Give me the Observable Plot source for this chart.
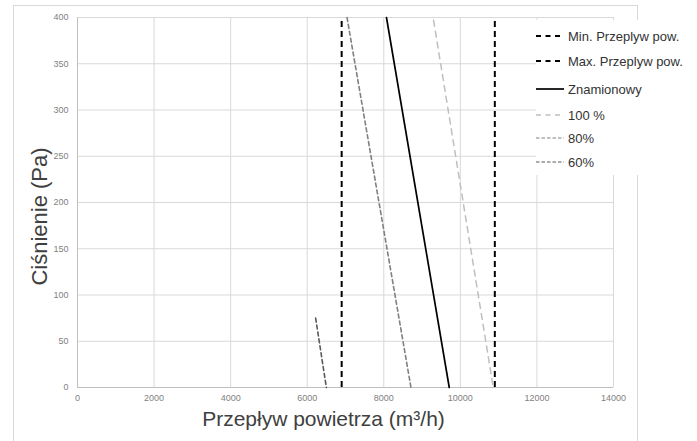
<!DOCTYPE html>
<html>
<head>
<meta charset="utf-8">
<script src="https://cdn.jsdelivr.net/npm/d3@7"></script>
<script src="https://cdn.jsdelivr.net/npm/@observablehq/plot@0.6"></script>
<style>
  html, body { margin: 0; padding: 0; background: #fff; }
  #wrap { position: relative; width: 697px; height: 441px; overflow: hidden; font-family: "Liberation Sans", Arial, sans-serif; }
  #frame { position: absolute; left: 13px; top: 5px; width: 625px; height: 450px; border: 1px solid #d9d9d9; box-sizing: border-box; }
  #chart { position: absolute; left: 0; top: 0; }
  #legend { position: absolute; left: 536px; top: 20px; width: 161px; height: 155px; background: #fff; }
  .row { position: absolute; left: 0; height: 16px; display: flex; align-items: center; }
  .row svg { display: block; }
  .row span { font-size: 13px; color: #333; margin-left: 4px; white-space: nowrap; }
</style>
</head>
<body>
<div id="wrap">
  <div id="frame"></div>
  <div id="chart"></div>
  <div id="legend"></div>
</div>
<script>
// Axis ticks
const flowTicks = [0, 2000, 4000, 6000, 8000, 10000, 12000, 14000];
const pressureTicks = [0, 50, 100, 150, 200, 250, 300, 350, 400];

// Flow limits (m3/h)
const minFlow = [6900];
const maxFlow = [10900];

// Curves: flow (m3/h) and pressure (Pa)
const nominalFlow = [8070, 9710];
const nominalPressure = [400, 0];
const p100Flow = [9300, 10860];
const p100Pressure = [397, 0];
const p80Flow = [7040, 8710];
const p80Pressure = [400, 0];
const p60Flow = [6220, 6500];
const p60Pressure = [75, 0];

// Legend labels
const legendLabels = ["Min. Przeplyw pow.", "Max. Przeplyw pow.", "Znamionowy", "100 %", "80%", "60%"];

const toPts = (xs, ys) => xs.map((x, i) => ({x, y: ys[i]}));

const styles = [
  {stroke: "#000", width: 2, dash: "6,4", legendDash: "5,4.5"},
  {stroke: "#000", width: 2, dash: "6,4", legendDash: "5,4.5"},
  {stroke: "#000", width: 1.7, dash: null, legendDash: null},
  {stroke: "#bfbfbf", width: 1.5, dash: "6,5", legendDash: "5,4.5"},
  {stroke: "#808080", width: 1.6, dash: "4,3", legendDash: "3.5,2"},
  {stroke: "#595959", width: 1.6, dash: "4,3", legendDash: "3.5,2"}
];

const chart = Plot.plot({
  width: 697,
  height: 441,
  marginLeft: 77,
  marginRight: 84,
  marginTop: 17,
  marginBottom: 54,
  style: {background: "transparent", fontFamily: "Liberation Sans, Arial, sans-serif"},
  x: {domain: [0, 14000], ticks: flowTicks},
  y: {domain: [0, 400], ticks: pressureTicks},
  marks: [
    Plot.gridX(flowTicks, {stroke: "#d9d9d9", strokeOpacity: 1, strokeWidth: 1}),
    Plot.gridY(pressureTicks, {stroke: "#d9d9d9", strokeOpacity: 1, strokeWidth: 1}),
    Plot.ruleX([0], {stroke: "#bfbfbf", strokeWidth: 1}),
    Plot.ruleY([0], {stroke: "#bfbfbf", strokeWidth: 1}),
    Plot.axisX(flowTicks, {tickSize: 0, tickPadding: 7, fontSize: 9, fill: "#7f7f7f", tickFormat: d => String(d), label: null}),
    Plot.axisY(pressureTicks, {tickSize: 0, tickPadding: 9, fontSize: 9, fill: "#7f7f7f", tickFormat: d => String(d), label: null}),
    Plot.ruleX(minFlow, {y1: 0, y2: 400, stroke: styles[0].stroke, strokeWidth: styles[0].width, strokeDasharray: styles[0].dash}),
    Plot.ruleX(maxFlow, {y1: 0, y2: 400, stroke: styles[1].stroke, strokeWidth: styles[1].width, strokeDasharray: styles[1].dash}),
    Plot.line(toPts(p100Flow, p100Pressure), {x: "x", y: "y", stroke: styles[3].stroke, strokeWidth: styles[3].width, strokeDasharray: styles[3].dash}),
    Plot.line(toPts(p80Flow, p80Pressure), {x: "x", y: "y", stroke: styles[4].stroke, strokeWidth: styles[4].width, strokeDasharray: styles[4].dash}),
    Plot.line(toPts(p60Flow, p60Pressure), {x: "x", y: "y", stroke: styles[5].stroke, strokeWidth: styles[5].width, strokeDasharray: styles[5].dash}),
    Plot.line(toPts(nominalFlow, nominalPressure), {x: "x", y: "y", stroke: styles[2].stroke, strokeWidth: styles[2].width}),
    Plot.text(["Przepływ powietrza (m³/h)"], {frameAnchor: "bottom", dx: -22, dy: 38, fontSize: 21, fill: "#404040", textAnchor: "middle"}),
    Plot.text(["Ciśnienie (Pa)"], {frameAnchor: "left", dx: -38, dy: 14, rotate: -90, fontSize: 22, fill: "#404040", textAnchor: "middle"})
  ]
});
document.getElementById("chart").appendChild(chart);

// Legend
const rowCenters = [36, 61, 89, 115, 138, 162];
const legend = document.getElementById("legend");
legendLabels.forEach((label, i) => {
  const s = styles[i];
  const row = document.createElement("div");
  row.className = "row";
  row.style.top = (rowCenters[i] - 20 - 8) + "px";
  const ns = "http://www.w3.org/2000/svg";
  const svg = document.createElementNS(ns, "svg");
  svg.setAttribute("width", 28);
  svg.setAttribute("height", 16);
  const ln = document.createElementNS(ns, "line");
  ln.setAttribute("x1", 0); ln.setAttribute("x2", 28);
  ln.setAttribute("y1", 8); ln.setAttribute("y2", 8);
  ln.setAttribute("stroke", s.stroke);
  ln.setAttribute("stroke-width", i >= 4 ? 1.2 : s.width);
  if (s.legendDash) ln.setAttribute("stroke-dasharray", s.legendDash);
  svg.appendChild(ln);
  row.appendChild(svg);
  const sp = document.createElement("span");
  sp.textContent = label;
  row.appendChild(sp);
  legend.appendChild(row);
});
</script>
</body>
</html>
